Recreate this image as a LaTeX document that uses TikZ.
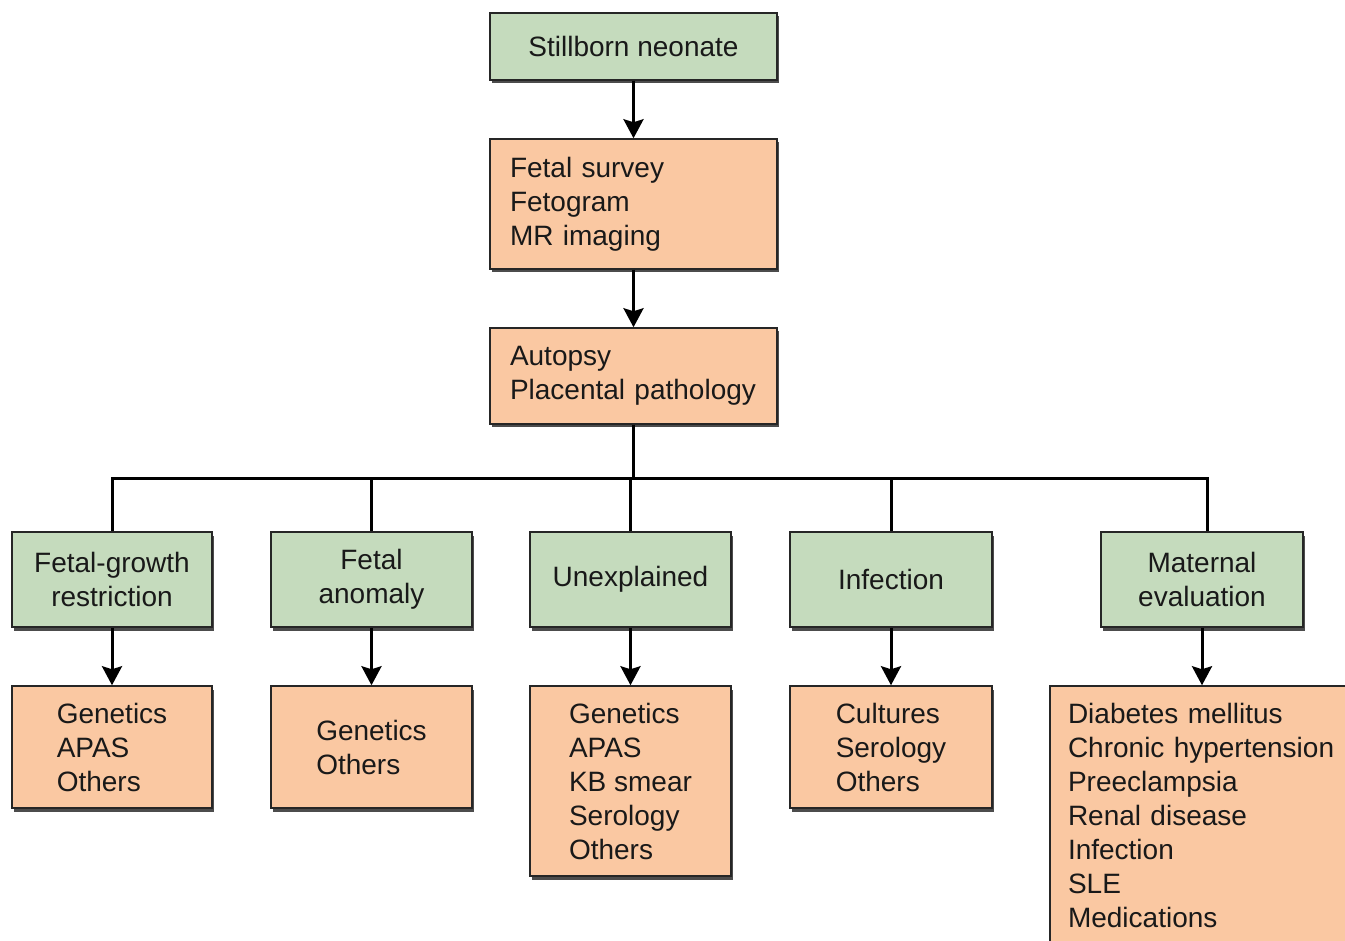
\documentclass[tikz,border=0pt]{standalone}
\usepackage{fontspec}
\setmainfont{Liberation Sans}
\usetikzlibrary{arrows.meta, positioning, shadows}

\definecolor{boxgreen}{RGB}{197,219,189}
\definecolor{boxorange}{RGB}{250,200,162}

\begin{document}
\begin{tikzpicture}[
  x=1pt, y=-1pt,
  box/.style={draw=black!85, line width=1.5pt, align=center, inner sep=0pt,
              font=\fontsize{28}{34}\selectfont, text=black!90,
              drop shadow={shadow xshift=1.5pt, shadow yshift=-3.5pt,
                           fill=black!70, opacity=1}},
  cause/.style={box, fill=boxgreen, minimum height=95pt},
  test/.style={box, fill=boxorange, align=left},
  arr/.style={-{Stealth[length=19pt, width=20pt, inset=3pt]}, line width=3pt},
  link/.style={line width=3pt}
]
\useasboundingbox (0,0) rectangle (1345,941);

% main chain
\node[box, fill=boxgreen, minimum width=287pt, minimum height=67pt] (stillborn)
  at (633.5,46.5) {Stillborn neonate};
\node[test, text width=247pt, minimum width=287pt, minimum height=130pt] (survey)
  at (633.5,204) {Fetal survey\\Fetogram\\MR imaging};
\node[test, text width=247pt, minimum width=287pt, minimum height=96pt] (autopsy)
  at (633.5,376) {Autopsy\\Placental pathology};
\draw[arr] (stillborn) -- (survey);
\draw[arr] (survey) -- (autopsy);

% causes
\node[cause, minimum width=200pt] (fgr)      at (112,579.5)  {Fetal-growth\\restriction};
\node[cause, minimum width=201pt] (anomaly)  at (371.5,579.5) {Fetal\\anomaly};
\node[cause, minimum width=201pt] (unexpl)   at (630.5,579.5) {Unexplained};
\node[cause, minimum width=202pt] (infect)   at (891,579.5)  {Infection};
\node[cause, minimum width=202pt] (maternal) at (1202,579.5) {Maternal\\evaluation};

\draw[link] (autopsy.south) -- ++(0,54) coordinate (bus);
\draw[link] (fgr.north) |- (bus) -| ([xshift=5pt]maternal.north);
\foreach \n in {anomaly, unexpl, infect}
  \draw[link] (bus -| \n.north) -- (\n.north);

% work-up per cause
\node[test, minimum width=200pt, minimum height=122pt] (fgrtest)      at (112,747)   {Genetics\\APAS\\Others};
\node[test, minimum width=201pt, minimum height=122pt] (anomalytest)  at (371.5,747) {Genetics\\Others};
\node[test, minimum width=201pt, minimum height=190pt] (unexpltest)   at (630.5,781) {Genetics\\APAS\\KB smear\\Serology\\Others};
\node[test, minimum width=202pt, minimum height=122pt] (infecttest)   at (891,747)   {Cultures\\Serology\\Others};
\node[test, text width=267pt, minimum width=303pt, minimum height=258pt] (maternaltest)
  at (1201.5,815) {Diabetes mellitus\\Chronic hypertension\\Preeclampsia\\Renal disease\\Infection\\SLE\\Medications};

\foreach \a in {fgr, anomaly, unexpl, infect, maternal}
  \draw[arr] (\a.south) -- (\a.south |- \a test.north);
\end{tikzpicture}
\end{document}
